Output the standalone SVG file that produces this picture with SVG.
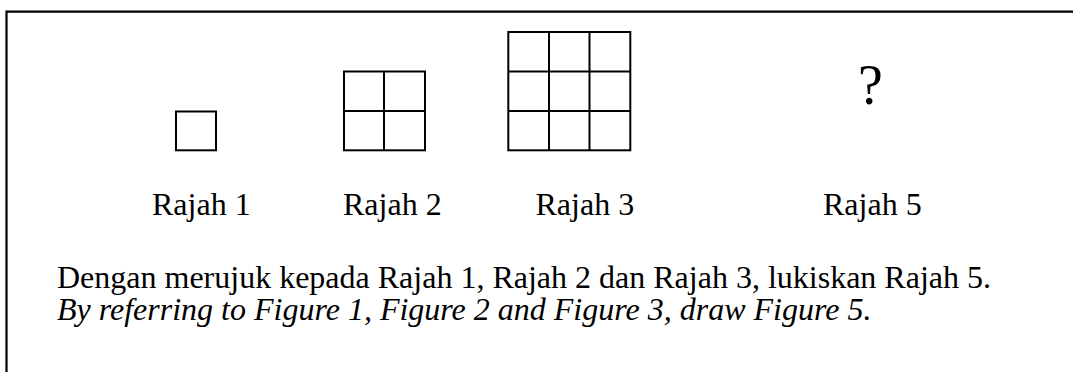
<svg xmlns="http://www.w3.org/2000/svg" width="1073" height="372" viewBox="0 0 1073 372">
  <style>
    .frame { fill: none; stroke: #000; stroke-width: 2.2; }
    .grid { fill: none; stroke: #000; stroke-width: 2; }
    .lbl { font-family: "Liberation Serif", "Times New Roman", serif; font-size: 32px; fill: #000; }
    .it { font-style: italic; }
    .q { font-family: "Liberation Serif", "Times New Roman", serif; font-size: 56px; fill: #000; }
  </style>

  <!-- outer frame: top and left edges only -->
  <path class="frame" d="M6.5,372 V11.7 H1073"/>

  <!-- figure 1: single square -->
  <g id="rajah1">
    <rect class="grid" x="176" y="111.5" width="40" height="38.8"/>
    <text class="lbl" x="152" y="215">Rajah 1</text>
  </g>

  <!-- figure 2: 2 x 2 grid -->
  <g id="rajah2">
    <rect class="grid" x="344" y="71.5" width="81" height="78.8"/>
    <path class="grid" d="M384,71.5 V150.3 M344,111 H425"/>
    <text class="lbl" x="343" y="215">Rajah 2</text>
  </g>

  <!-- figure 3: 3 x 3 grid -->
  <g id="rajah3">
    <rect class="grid" x="508.3" y="32" width="122" height="118.3"/>
    <path class="grid" d="M549,32 V150.3 M589.5,32 V150.3 M508.3,71.5 H630.3 M508.3,111 H630.3"/>
    <text class="lbl" x="535.5" y="215">Rajah 3</text>
  </g>

  <!-- figure 5: unknown -->
  <g id="rajah5">
    <text class="q" x="858" y="103.5">?</text>
    <text class="lbl" x="823" y="215">Rajah 5</text>
  </g>

  <!-- connectors (none in this figure) -->
  <g id="connectors"/>

  <!-- instruction text -->
  <g id="instruction">
    <text class="lbl" x="57" y="288">Dengan merujuk kepada Rajah 1, Rajah 2 dan Rajah 3, lukiskan Rajah 5.</text>
    <text class="lbl it" x="57" y="319.5">By referring to Figure 1, Figure 2 and Figure 3, draw Figure 5.</text>
  </g>
</svg>
